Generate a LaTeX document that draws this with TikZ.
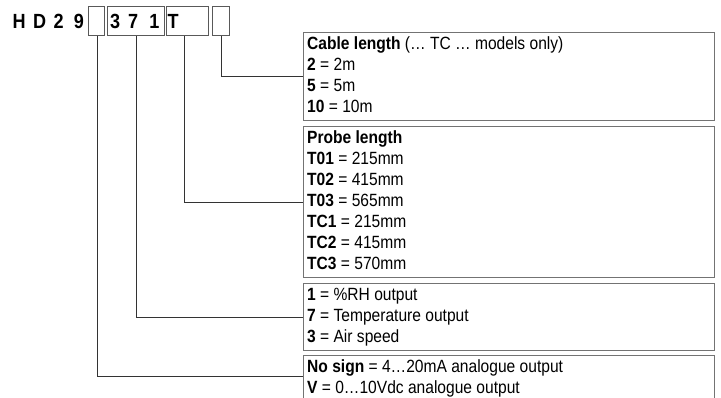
\documentclass[tikz,border=0pt]{standalone}
\usepackage{fontspec}
\setmainfont[FakeStretch=0.88]{Liberation Sans}
\begin{document}
\begin{tikzpicture}[x=1pt,y=-1pt,
  codebox/.style={draw=black!65, line width=1.1pt, inner sep=0, minimum height=29pt, anchor=north west},
  infobox/.style={draw=black!55, line width=1.3pt, inner sep=0, minimum width=411pt, anchor=north west},
  leader/.style={draw=black!80, line width=0.9pt},
  itxt/.style={font=\fontsize{17.7}{21}\selectfont, anchor=base west, inner sep=0},
  htxt/.style={font=\fontsize{20.5}{24}\selectfont\bfseries, anchor=base west, inner sep=0}]
\clip (0,0) rectangle (721,398);
\fill[white] (0,0) rectangle (721,398);
% code
\node[htxt] (hd) at (12.5,28.3) {H\hspace{7.5pt}D\hspace{7.5pt}2\hspace{10pt}9};
\node[codebox, minimum width=16pt] (cb1) at (88,6) {};
\node[codebox, minimum width=57pt] (cb2) at (107,6) {};
\node[codebox, minimum width=41.5pt] (cb3) at (166,6) {};
\node[codebox, minimum width=17pt] (cb4) at (212.3,6) {};
\node[htxt] (c371) at (110,28.3) {3\hspace{8pt}7\hspace{11pt}1};
\node[htxt] (cT) at (167.5,28.3) {T};
% info boxes
\node[infobox, minimum height=88pt] (cable) at (303,32) {};
\node[infobox, minimum height=151pt] (probe) at (303,126) {};
\node[infobox, minimum height=67pt] (rh) at (303,283) {};
\node[infobox, minimum height=80pt] (nosign) at (303,355) {};
% cable text
\node[itxt] (ca0) at (307,50) {\textbf{Cable length} (… TC … models only)};
\node[itxt] (ca1) at (307,71) {\textbf{2} = 2m};
\node[itxt] (ca2) at (307,92) {\textbf{5} = 5m};
\node[itxt] (ca3) at (307,113) {\textbf{10} = 10m};
% probe text
\node[itxt] (pr0) at (307,144) {\textbf{Probe length}};
\node[itxt] (pr1) at (307,165) {\textbf{T01} = 215mm};
\node[itxt] (pr2) at (307,186) {\textbf{T02} = 415mm};
\node[itxt] (pr3) at (307,207) {\textbf{T03} = 565mm};
\node[itxt] (pr4) at (307,228) {\textbf{TC1} = 215mm};
\node[itxt] (pr5) at (307,249) {\textbf{TC2} = 415mm};
\node[itxt] (pr6) at (307,270) {\textbf{TC3} = 570mm};
% rh text
\node[itxt] (rh0) at (307,301) {\textbf{1} = \%RH output};
\node[itxt] (rh1) at (307,322) {\textbf{7} = Temperature output};
\node[itxt] (rh2) at (307,343) {\textbf{3} = Air speed};
% nosign text
\node[itxt] (ns0) at (307,373) {\textbf{No sign} = 4…20mA analogue output};
\node[itxt] (ns1) at (307,394) {\textbf{V} = 0…10Vdc analogue output};
% leaders
\draw[leader] (cb4.south) |- (cable.west);
\draw[leader] ([xshift=-3pt]cb3.south) |- (probe.west);
\draw[leader] (cb2.south) |- (rh.west);
\draw[leader] ([xshift=1pt]cb1.south) |- ([yshift=-21pt]nosign.north west);
\end{tikzpicture}
\end{document}
